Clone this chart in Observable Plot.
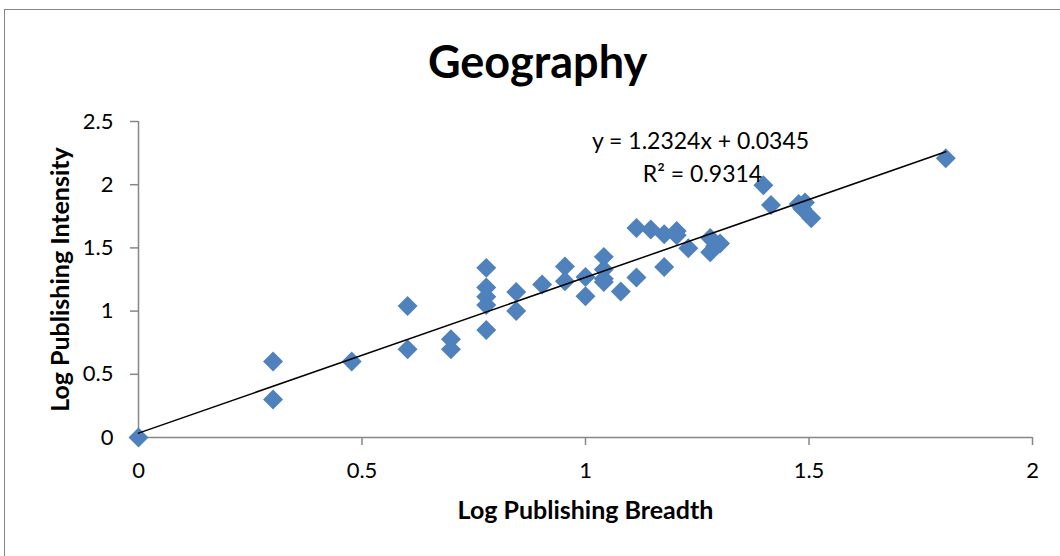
<!DOCTYPE html>
<html><head><meta charset="utf-8">
<script src="https://cdn.jsdelivr.net/npm/d3@7"></script>
<script src="https://cdn.jsdelivr.net/npm/@observablehq/plot@0.6"></script>
<style>
html,body{margin:0;padding:0;background:#fff;}
#wrap{position:relative;width:1060px;height:556px;overflow:hidden;}
#frame{position:absolute;left:4px;top:9px;width:1200px;height:800px;border:1.5px solid #868686;box-sizing:border-box;}
#chart{position:absolute;left:0;top:0;}
</style></head><body><div id="wrap"><div id="frame"></div><div id="chart"></div></div>
<script>
const titleText = "Geography";
const xLabel = "Log Publishing Breadth";
const yLabel = "Log Publishing Intensity";
const breadth   = [0, 0.301, 0.301, 0.477, 0.602, 0.602, 0.699, 0.699, 0.778, 0.778, 0.778, 0.778, 0.778, 0.845, 0.845, 0.903, 0.954, 0.954, 1.0, 1.0, 1.041, 1.041, 1.041, 1.041, 1.079, 1.114, 1.114, 1.146, 1.176, 1.176, 1.204, 1.204, 1.230, 1.279, 1.279, 1.290, 1.301, 1.398, 1.415, 1.477, 1.491, 1.485, 1.505, 1.806];
const intensity = [0, 0.602, 0.301, 0.602, 1.041, 0.699, 0.778, 0.699, 1.342, 1.186, 1.114, 1.049, 0.851, 1.151, 1.0, 1.210, 1.352, 1.236, 1.270, 1.117, 1.429, 1.330, 1.255, 1.230, 1.155, 1.265, 1.658, 1.646, 1.608, 1.349, 1.633, 1.600, 1.497, 1.578, 1.465, 1.515, 1.535, 1.995, 1.839, 1.848, 1.860, 1.810, 1.735, 2.210];
const slope = 1.2324, intercept = 0.0345, rSquared = 0.9314;
const xTicks = [0, 0.5, 1, 1.5, 2];
const yTicks = [0, 0.5, 1, 1.5, 2, 2.5];

const points = breadth.map((x, i) => ({x, y: intensity[i]}));
const xMax = d3.max(breadth);
const trend = [0, xMax].map(x => ({x, y: slope * x + intercept}));
const eqText = `y = ${slope}x + ${intercept}`;
const r2Text = `R² = ${rSquared}`;
const axisGray = "#868686";

const chart = Plot.plot({
  width: 1060, height: 556,
  marginLeft: 138, marginRight: 28, marginTop: 121, marginBottom: 119,
  style: {fontFamily: "Lato", background: "transparent", color: "black", overflow: "visible"},
  x: {domain: [0, 2]},
  y: {domain: [0, 2.5]},
  marks: [
    Plot.axisX(xTicks, {tickSize: 8, tickPadding: 17, stroke: axisGray, strokeWidth: 1.5, fill: "black", fontSize: 22, tickFormat: d => String(d), label: null}),
    Plot.axisY(yTicks, {tickSize: 8, tickPadding: 17, stroke: axisGray, strokeWidth: 1.5, fill: "black", fontSize: 22, tickFormat: d => String(d), label: null}),
    Plot.ruleY([0], {stroke: axisGray, strokeWidth: 1.5}),
    Plot.ruleX([0], {stroke: axisGray, strokeWidth: 1.5}),
    Plot.dot(points, {x: "x", y: "y", symbol: "diamond2", r: 9, fill: "#4F81BD", stroke: "none"}),
    Plot.line(trend, {x: "x", y: "y", stroke: "black", strokeWidth: 1.5}),
    Plot.text([titleText], {frameAnchor: "top", dx: -48, dy: -44, lineAnchor: "bottom", fontSize: 45, fontWeight: "bold"}),
    Plot.text([eqText], {frameAnchor: "top", dx: 115, dy: 27, lineAnchor: "bottom", fontSize: 23}),
    Plot.text([r2Text], {frameAnchor: "top", dx: 117, dy: 60, lineAnchor: "bottom", fontSize: 23}),
    Plot.text([xLabel], {frameAnchor: "bottom", dy: 81, lineAnchor: "bottom", textAnchor: "middle", fontSize: 25, fontWeight: "bold"}),
    Plot.text([yLabel], {frameAnchor: "left", dx: -70, rotate: -90, lineAnchor: "bottom", textAnchor: "middle", fontSize: 25, fontWeight: "bold"})
  ]
});
document.getElementById("chart").appendChild(chart);
</script></body></html>
